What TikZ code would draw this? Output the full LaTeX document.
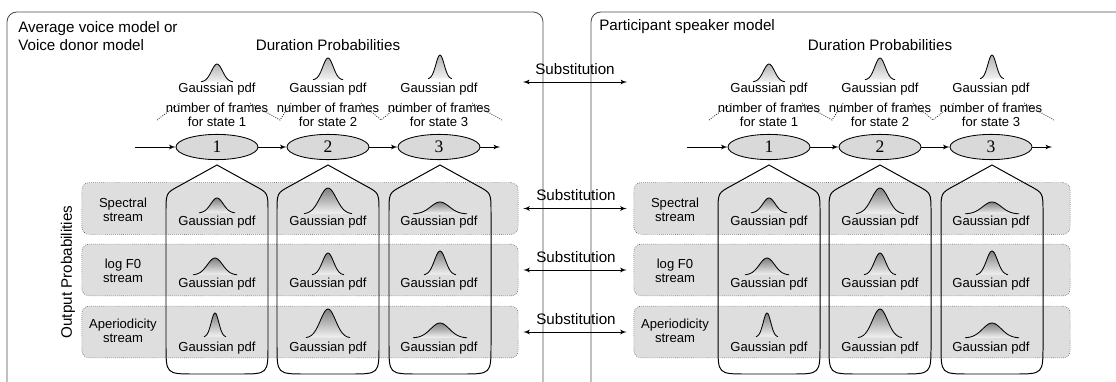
\documentclass[tikz,border=0pt]{standalone}
\usepackage{fontspec}
\setmainfont{Liberation Sans}
\newfontfamily\statefont{Liberation Serif}
\usepackage{tikz}
\usetikzlibrary{arrows,shapes,positioning}
\tikzstyle{modelbox} = [draw=black!70, line width=0.6pt, rounded corners=7pt]
\tikzstyle{state} = [ellipse, draw, fill=black!15, line width=0.6pt,
    minimum width=2.05cm, minimum height=0.63cm, inner sep=0pt,
    font=\statefont\fontsize{12.5}{12}\selectfont]
\tikzstyle{stream} = [rectangle, draw=black!75, densely dotted, fill=black!13,
    rounded corners=5pt, minimum width=10.9cm, minimum height=1.29cm]
\tikzstyle{modeltitle} = [font=\fontsize{10.8}{13}\selectfont, inner sep=0pt]
\tikzstyle{pdftext} = [font=\fontsize{9.3}{10}\selectfont, align=center, inner sep=0pt]
\tikzstyle{line} = [draw, line width=0.6pt, -latex']
\tikzstyle{subst} = [draw, line width=0.6pt, latex'-latex']
\tikzstyle{pill} = [draw, line width=0.7pt]
\tikzstyle{durbrace} = [draw, densely dotted, line width=0.6pt, black!85]

% bell curve: centre x, base y, half width, height, shade
\newcommand{\gausspdf}[5]{%
  \shade[top color=black!#5, bottom color=black!5] plot[domain=-1:1, samples=31, smooth]
    ({#1+#3*\x}, {#2-#4*exp(-4.2*\x*\x)}) -- cycle;
  \draw[line width=0.6pt] plot[domain=-1:1, samples=31, smooth]
    ({#1+#3*\x}, {#2-#4*exp(-4.2*\x*\x)});
}

\begin{document}
\begin{tikzpicture}[x=0.025cm, y=-0.025cm]
  \clip (0,0) rectangle (1116,381);

    % Model frames
    \draw[modelbox] (7,12) rectangle (543,400);
    \draw[modelbox] (591,12) rectangle (1140,400);
    \node[modeltitle, anchor=west, align=left] (donor) at (18,36) {Average voice model or\\Voice donor model};
    \node[modeltitle, anchor=west] (target) at (599,27) {Participant speaker model};
    \node[modeltitle, rotate=90] (outprob) at (68,272) {Output Probabilities};

  \foreach \side/\off in {L/0,R/552} {
    \begin{scope}[shift={(\off,0)}]
    % Duration probabilities
    \node[modeltitle] (dur\side) at (328,45) {Duration Probabilities};
    \gausspdf{217}{82}{16}{18}{30}
    \gausspdf{328}{80}{15}{22}{30}
    \gausspdf{440}{79}{12}{24}{30}
    \draw[durbrace] (157,120) -- (180,103) (250,103) -- (280,120) -- (291,103)
      (361,103) -- (381,120) -- (402,103) (472,103) -- (502,120);
    \foreach \n/\cx in {1/217,2/328,3/439} {
      \node[pdftext] (durpdf\n\side) at (\cx,89) {Gaussian pdf};
      \node[pdftext] (frm\n\side) at (\cx,115) {number of frames\\for state \n};
    }

    % Place states
    \node[state] (s1\side) at (217,147) {1};
    \node[state] (s2\side) at (328,147) {2};
    \node[state] (s3\side) at (439,147) {3};
    \coordinate (in\side) at (135,147);
    \coordinate (out\side) at (500,147);
    \path[line] (in\side) -- (s1\side);
    \path[line] (s1\side) -- (s2\side);
    \path[line] (s2\side) -- (s3\side);
    \path[line] (s3\side) -- (out\side);

    % Streams
    \node[stream] (spec\side) at (300,208.5) {};
    \node[stream] (logf\side) at (300,270) {};
    \node[stream] (aper\side) at (300,332) {};
    \node[pdftext] (specname\side) at (123,210) {Spectral\\stream};
    \node[pdftext] (logfname\side) at (123,270.5) {log F0\\stream};
    \node[pdftext] (apername\side) at (123,330.5) {Aperiodicity\\stream};
    \foreach \cx/\by/\hw/\hh/\tx/\ty in {217/213/18/15/217/222, 328/214/24/26/328/222,
        440/214/27/12/439/222, 215/275/22/17/217/284, 328/275/16/22/328/284,
        440/275/16/24/439/284, 215/337/11/24/217/348, 328/338/22/29/328/348,
        440/338/27/15/439/348} {
      \gausspdf{\cx}{\by}{\hw}{\hh}{50}
      \node[pdftext] (pdf\side-\tx-\ty) at (\tx,\ty) {Gaussian pdf};
    }

    % States across the streams
    \foreach \cx in {217,328,440}
      \draw[pill] (\cx,165) -- ({\cx-38},186) .. controls ({\cx-51},193) .. ({\cx-51},212)
        -- ({\cx-51},345) .. controls ({\cx-51},374) .. ({\cx-22},374) -- ({\cx+22},374)
        .. controls ({\cx+51},374) .. ({\cx+51},345) -- ({\cx+51},212)
        .. controls ({\cx+51},193) .. ({\cx+38},186) -- cycle;
    \end{scope}
  }

    % Substitution between models
    \coordinate (durSubL) at (523,82);
    \coordinate (durSubR) at (627,82);
    \path[subst] (durSubL) -- node[modeltitle, above=5pt] {Substitution} (durSubR);
    \foreach \row in {spec,logf,aper}
      \path[subst, shorten <=0.125cm, shorten >=0.175cm] (\row L.east) -- node[modeltitle, above=5pt] {Substitution} (\row R.west);

\end{tikzpicture}
\end{document}
